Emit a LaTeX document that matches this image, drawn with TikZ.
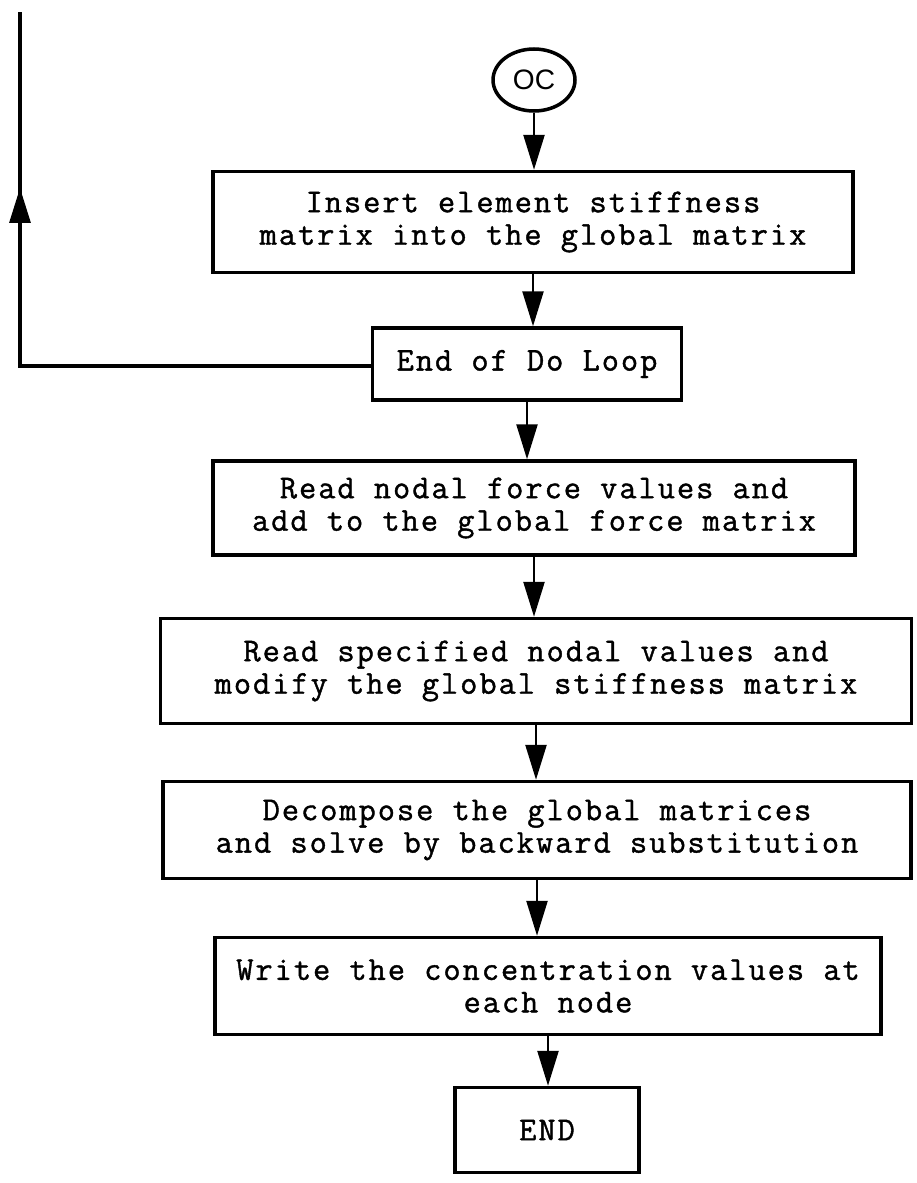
\documentclass[tikz,border=0pt]{standalone}
\usepackage{fontspec}
\newfontfamily\chartfont[LetterSpace=6,FakeBold=1.2]{Latin Modern Mono}
\newfontfamily\ocfont{Liberation Sans}
\usetikzlibrary{arrows.meta,shapes.geometric}

\begin{document}
\begin{tikzpicture}[x=0.02cm, y=-0.02cm]

\useasboundingbox (0,0) rectangle (916,1183);

\begin{scope}[every node/.style={rectangle,draw,line width=2pt,align=center,
                                 font=\chartfont\fontsize{19}{18.5}\selectfont}]

    \node (oc) at (534, 80) [shape=ellipse, minimum width=1.64cm, minimum height=1.24cm,
                             font=\ocfont\fontsize{16}{16}\selectfont] {OC};

    \node (insert) at (533, 222) [minimum width=12.8cm, minimum height=2.02cm]
        {Insert element stiffness\\matrix into the global matrix};
    \node (endloop) at (527, 364) [minimum width=6.18cm, minimum height=1.44cm] {End of Do Loop};
    \node (force) at (534, 508) [minimum width=12.84cm, minimum height=1.88cm]
        {Read nodal force values and\\add to the global force matrix};
    \node (modify) at (536, 671) [minimum width=15.02cm, minimum height=2.1cm]
        {Read specified nodal values and\\modify the global stiffness matrix};
    \node (solve) at (537, 830) [minimum width=14.96cm, minimum height=1.94cm]
        {Decompose the global matrices\\and solve by backward substitution};
    \node (write) at (548, 986) [minimum width=13.32cm, minimum height=1.94cm]
        {Write the concentration values at\\each node};
    \node (finish) at (547, 1130) [minimum width=3.68cm, minimum height=1.7cm] {END};
\end{scope}

% return line of the do loop
\coordinate (loopcorner) at (20, 366);
\coordinate (looptip) at (20, 188);
\coordinate (looptop) at (20, 12);

\begin{scope}[>={Triangle[length=7mm, width=4.2mm]},
              every path/.style={line width=1.4pt}]
    \draw [->] (oc.south) -- (oc.south |- insert.north);
    \draw [->] (insert.south) -- (insert.south |- endloop.north);
    \draw [->] (endloop.south) -- (endloop.south |- force.north);
    \draw [->] (force.south) -- (force.south |- modify.north);
    \draw [->] (modify.south) -- (modify.south |- solve.north);
    \draw [->] (solve.south) -- (solve.south |- write.north);
    \draw [->] (write.south) -- (write.south |- finish.north);

    \draw [line width=1.8pt] (endloop.west |- loopcorner) -- (loopcorner) -- (looptop);
    \draw [->, line width=1.8pt] (loopcorner) -- (looptip);
\end{scope}

\end{tikzpicture}
\end{document}
